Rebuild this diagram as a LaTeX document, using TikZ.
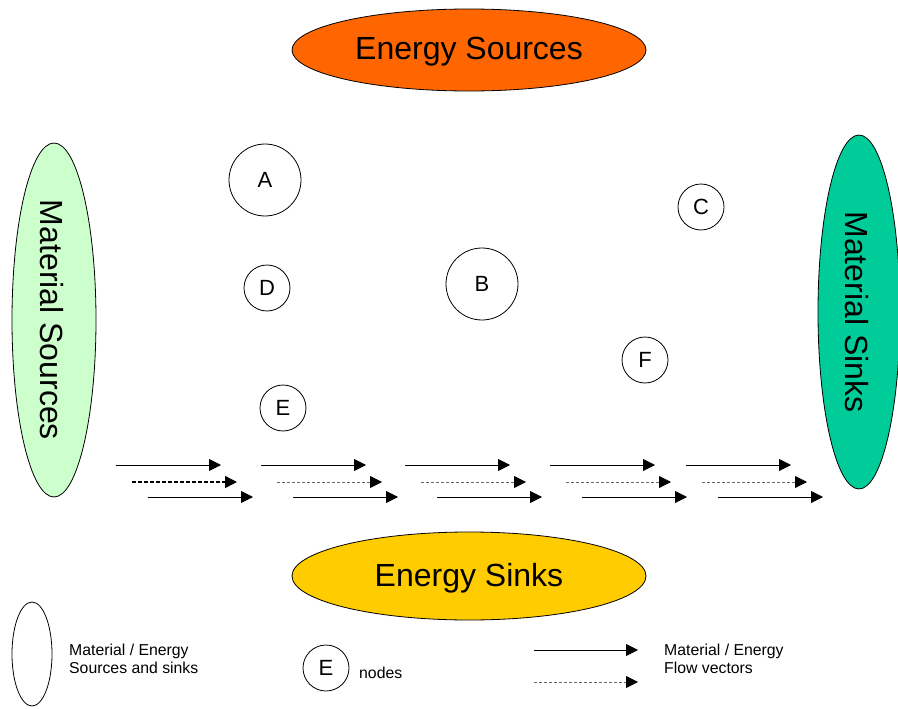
\documentclass[tikz,border=0pt]{standalone}
\usepackage{fontspec}
\setmainfont{Liberation Sans}
\usetikzlibrary{shapes.geometric,arrows.meta}
\definecolor{srcorange}{HTML}{FF6600}
\definecolor{sinkyellow}{HTML}{FFCC00}
\definecolor{matsrc}{HTML}{CCFFCC}
\definecolor{matsink}{HTML}{00CC99}
\definecolor{flowgray}{HTML}{666666}
\tikzset{
  pool/.style={ellipse, draw=black, line width=0.8pt, inner sep=0pt},
  bigtext/.style={font=\fontsize{32}{38}\selectfont, inner sep=0pt},
  node circle/.style={circle, draw=black, line width=0.8pt, inner sep=0pt, font=\fontsize{22}{26}\selectfont},
  big node/.style={node circle, minimum size=72pt},
  small node/.style={node circle, minimum size=46pt},
  flow/.style={line width=0.9pt, -{Triangle[length=12pt,width=12pt,black]}},
  flow dash/.style={flow, dash pattern=on 4pt off 2pt, line width=1.4pt},
  flow gray/.style={flow, draw=flowgray, line width=0.8pt, dash pattern=on 3pt off 2pt},
  legend/.style={font=\fontsize{15.8}{18}\selectfont, align=left, anchor=west, inner sep=0pt}
}
\begin{document}
\begin{tikzpicture}[x=1pt,y=-1pt]
\useasboundingbox (0,0) rectangle (898,709);

% energy sources and sinks
\node[pool, fill=srcorange, minimum width=354pt, minimum height=82pt] (esrc) at (469,50) {};
\node[bigtext] (esrclbl) at (469,52) {Energy Sources};
\node[pool, fill=sinkyellow, minimum width=354pt, minimum height=88pt] (esink) at (469,576) {};
\node[bigtext] (esinklbl) at (469,578) {Energy Sinks};

% material sources and sinks
\node[pool, fill=matsrc, minimum width=84pt, minimum height=354pt] (msrc) at (54,320) {};
\node[bigtext, rotate=-90] (msrclbl) at (52,320) {Material Sources};
\node[pool, fill=matsink, minimum width=82pt, minimum height=354pt] (msink) at (859,312) {};
\node[bigtext, rotate=-90] (msinklbl) at (857,312) {Material Sinks};

% process nodes
\node[big node] (A) at (265,180) {A};
\node[big node] (B) at (482,284) {B};
\node[small node] (C) at (701,207) {C};
\node[small node] (D) at (267,288) {D};
\node[small node] (E) at (283,408) {E};
\node[small node] (F) at (645,360) {F};

% flow vectors
\foreach \i/\x in {1/116,2/261,3/405,4/550,5/686}{
  \coordinate (s\i a) at (\x,465);
  \coordinate (s\i b) at (\x+105,465);
  \coordinate (d\i a) at (\x+16,482);
  \coordinate (d\i b) at (\x+121,482);
  \coordinate (t\i a) at (\x+32,497);
  \coordinate (t\i b) at (\x+137,497);
}
\draw[flow] (s1a) -- (s1b);
\draw[flow dash] (d1a) -- (d1b);
\draw[flow] (t1a) -- (t1b);
\foreach \i in {2,3,4,5}{
  \draw[flow] (s\i a) -- (s\i b);
  \draw[flow gray] (d\i a) -- (d\i b);
  \draw[flow] (t\i a) -- (t\i b);
}

% legend
\node[pool, minimum width=40pt, minimum height=104pt] (lgpool) at (32,654) {};
\node[legend] (lgpooltxt) at (69,659) {Material / Energy\\Sources and sinks};
\node[small node] (lgnode) at (326,668) {E};
\node[legend] (lgnodetxt) at (359,673) {nodes};
\coordinate (lga1) at (534,650);
\coordinate (lgb1) at (638,650);
\coordinate (lga2) at (534,682);
\coordinate (lgb2) at (638,682);
\draw[flow] (lga1) -- (lgb1);
\draw[flow gray] (lga2) -- (lgb2);
\node[legend] (lgflowtxt) at (664,659) {Material / Energy\\Flow vectors};
\end{tikzpicture}
\end{document}
